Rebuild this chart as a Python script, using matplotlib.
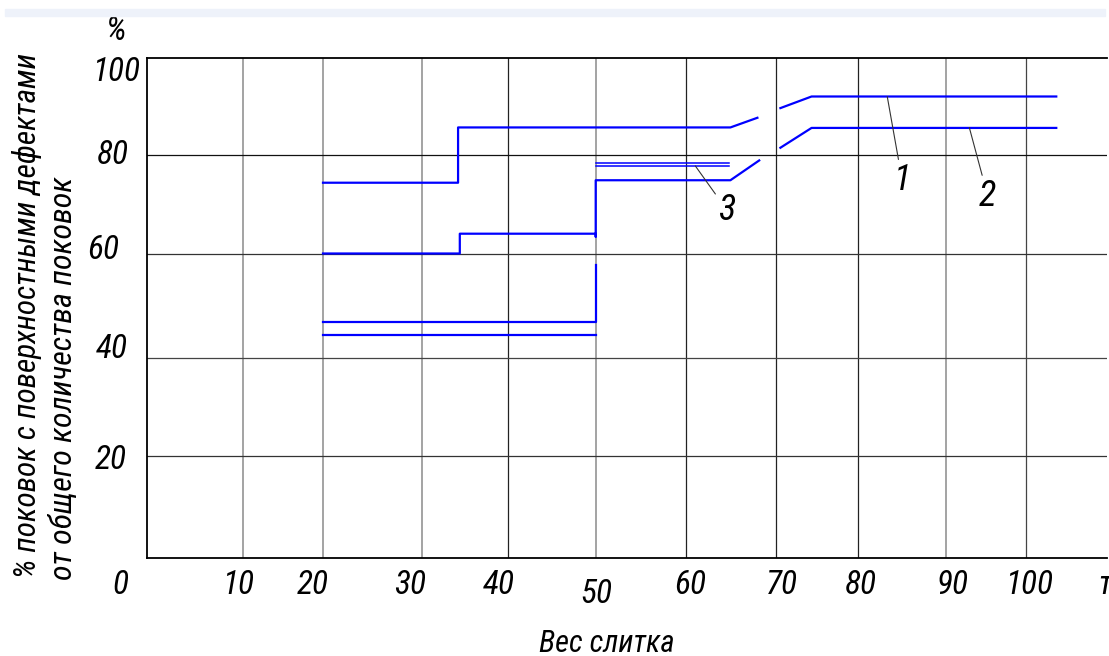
import numpy as np
import matplotlib
matplotlib.use('Agg')
from matplotlib import pyplot as plt
from matplotlib.patches import Rectangle

# шрифт похожий на чертёжный (узкий, курсив)
plt.rcParams['font.family'] = ['Roboto Condensed', 'Liberation Sans', 'DejaVu Sans']
plt.rcParams['font.style'] = 'italic'

# Данные (вес слитка, т  /  % поковок)
# кривая 1
c1a_x = [20, 34.2, 34.2, 64.9, 67.9]
c1a_y = [74.4, 74.4, 85.7, 85.7, 87.7]
c1b_x = [70.5, 74.3, 103.7]
c1b_y = [89.7, 92.1, 92.1]
# кривая 2
c2a_x = [20, 34.4, 34.4, 50, 50, 50, 64.9, 68.1]
c2a_y = [60.1, 60.1, 64.1, 64.1, 63.5, 74.9, 74.9, 78.9]
c2b_x = [70.5, 74.3, 103.7]
c2b_y = [81.5, 85.6, 85.6]
# кривая 3
c3a_x = [20, 50, 50]
c3a_y = [46.9, 46.9, 57.9]
c3b_x = [20, 50]
c3b_y = [44.4, 44.4]
c3c_x = [50, 64.7]
c3c_y1 = [78.3, 78.3]
c3c_y2 = [77.7, 77.7]

x_ticks = [0, 10, 20, 30, 40, 50, 60, 70, 80, 90, 100]
x_labels = ['0', '10', '20', '30', '40', '50', '60', '70', '80', '90', '100']
y_ticks = [100, 80, 60, 40, 20]
y_labels = ['100', '80', '60', '40', '20']

W, H = 1109, 656
fig = plt.figure(figsize=(W / 100, H / 100), dpi=100)

# сетка на чертеже нарисована от руки - неравномерная шкала
x_nom = [0, 10, 20, 30, 40, 50, 60, 70, 80, 90, 100, 110]
x_pix = [147, 243, 323, 421.7, 508.3, 595.7, 686.3, 776.3, 858.3, 946, 1026.3, 1107.3]
y_nom = [0, 20, 40, 60, 80, 100]
y_pix = [0, 101.7, 199.7, 304, 403, 499.7]

ax = fig.add_axes([147 / W, (H - 558) / H, (1107.3 - 147) / W, 499.7 / H])
ax.set_xscale('function', functions=(lambda v: np.interp(v, x_nom, x_pix),
                                     lambda p: np.interp(p, x_pix, x_nom)))
ax.set_yscale('function', functions=(lambda v: np.interp(v, y_nom, y_pix),
                                     lambda p: np.interp(p, y_pix, y_nom)))
ax.set_xlim(0, 110)
ax.set_ylim(0, 100)
ax.set_xticks([])
ax.set_yticks([])
ax.spines['right'].set_visible(False)
for s in ['left', 'top', 'bottom']:
    ax.spines[s].set_linewidth(1.3)

# сетка
vcol = ['#8a8a8a', '#8a8a8a', '#8a8a8a', '#222222', '#8a8a8a', '#222222',
        '#222222', '#222222', '#8a8a8a', '#444444']
for v, c in zip(x_ticks[1:], vcol):
    ax.axvline(v, color=c, lw=1.1 if c == '#8a8a8a' else 0.9, zorder=1)
for v, c in zip([80, 60, 40, 20], ['#111111', '#333333', '#444444', '#333333']):
    ax.axhline(v, color=c, lw=0.9, zorder=1)

blue = '#0000ff'
lw = 1.6
ax.plot(c1a_x, c1a_y, color=blue, lw=lw)
ax.plot(c1b_x, c1b_y, color=blue, lw=lw)
ax.plot(c2a_x, c2a_y, color=blue, lw=lw)
ax.plot(c2b_x, c2b_y, color=blue, lw=lw)
ax.plot(c3a_x, c3a_y, color=blue, lw=lw)
ax.plot(c3b_x, c3b_y, color=blue, lw=lw)
ax.plot(c3c_x, c3c_y1, color=blue, lw=1.1)
ax.plot(c3c_x, c3c_y2, color=blue, lw=1.1)

# выноски
lead = dict(arrowstyle='-', color='#333333', lw=0.8, shrinkA=0, shrinkB=0)
ax.annotate('1', xy=(83.3, 92.1), xytext=(85.0, 74.9), fontsize=26,
            ha='center', va='center', arrowprops=lead)
ax.annotate('2', xy=(92.9, 85.7), xytext=(95.2, 71.7), fontsize=26,
            ha='center', va='center', arrowprops=lead)
ax.annotate('3', xy=(61.0, 77.8), xytext=(64.5, 68.9), fontsize=26,
            ha='center', va='center', arrowprops=lead)

# подписи делений (расставлены вручную, как на чертеже)
x_dx = [-27, -5, -10, -12, -10, 1, 4, 6, 3, 7, 3]
x_dy = [-27, -27, -27, -27, -27, -36, -27, -27, -27, -27, -27]
for t, lab, dx, dy in zip(x_ticks, x_labels, x_dx, x_dy):
    ax.annotate(lab, xy=(t, 0), xytext=(dx, dy), textcoords='offset pixels',
                ha='center', va='center', fontsize=24, annotation_clip=False)
ax.annotate('т', xy=(110, 0), xytext=(-9, -27), textcoords='offset pixels',
            ha='left', va='center', fontsize=24, annotation_clip=False)

y_dx = [-31, -34, -44, -35, -36]
y_dy = [-14, 0, 4, 9, -4]
for t, lab, dx, dy in zip(y_ticks, y_labels, y_dx, y_dy):
    ax.annotate(lab, xy=(0, t), xytext=(dx, dy), textcoords='offset pixels',
                ha='center', va='center', fontsize=24, annotation_clip=False)
ax.annotate('%', xy=(0, 100), xytext=(-31, 27), textcoords='offset pixels',
            ha='center', va='center', fontsize=24, annotation_clip=False)

# подписи осей
fig.text(27 / W, (H - 578) / H, '% поковок с поверхностными дефектами',
         rotation=90, ha='center', va='bottom', fontsize=22.5)
fig.text(64 / W, (H - 580) / H, 'от общего количества поковок',
         rotation=90, ha='center', va='bottom', fontsize=23)
fig.text(607 / W, (H - 643) / H, 'Вес слитка', ha='center', va='center',
         fontsize=22)

# светлая полоса сверху (как на скриншоте)
fig.patches.append(Rectangle((5 / W, (H - 16) / H), 1100 / W, 7 / H,
                             transform=fig.transFigure, color='#eef2fa', zorder=0))

fig.savefig('out.png', dpi=100)
